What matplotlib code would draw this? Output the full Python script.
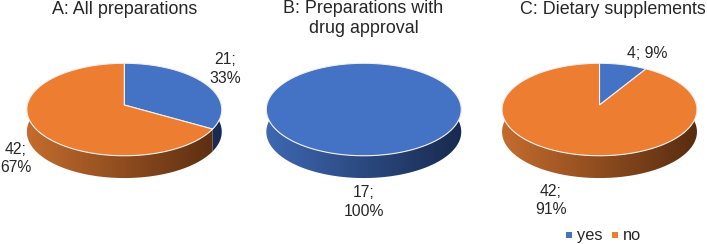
import numpy as np
import matplotlib
matplotlib.use("Agg")
import matplotlib.pyplot as plt
from matplotlib.patches import Polygon, Rectangle

titles = ["A: All preparations", "B: Preparations with\ndrug approval", "C: Dietary supplements"]
categories = ["yes", "no"]
yes_counts = [21, 17, 4]
no_counts = [42, 0, 42]

plt.rcParams["font.family"] = ["Liberation Sans", "DejaVu Sans"]

TOP = {"yes": "#4472C4", "no": "#ED7D31"}
SIDE = {"yes": ((62, 104, 178), (24, 42, 78)), "no": ((196, 108, 46), (88, 44, 16))}

apex_x = [124.3, 363.8, 599.5]
title_xy = [(124.3, 9), (363.5, 18.5), (613, 9)]
label_xy = {
    0: {"yes": (225.5, 69), "no": (16, 158.5)},
    1: {"yes": (364, 202)},
    2: {"yes": (646.7, 53), "no": (551, 200.5)},
}
legend_x = {"yes": (565.7, 576.7), "no": (611.7, 622.7)}
APEX_Y, A_X, B_Y, K, DEPTH = 105, 97.0, 45.8, 0.0974, 22.3


def project(cx, theta):
    u, v = np.sin(theta), np.cos(theta)
    d = 1 + K * v
    return cx + A_X * u / d, APEX_Y - B_Y * v / d


fig = plt.figure(figsize=(7.07, 2.44), dpi=100, facecolor="white")
ax = fig.add_axes([0, 0, 1, 1])

for i, (y, n) in enumerate(zip(yes_counts, no_counts)):
    cx = apex_x[i]
    total = y + n
    start = 0.0
    left, right = cx - 98, cx + 98
    wedges = []
    for name, val in zip(categories, (y, n)):
        if val == 0:
            continue
        end = start + 2 * np.pi * val / total
        wedges.append((name, val, start, end))
        start = end
    # extruded side, drawn first
    for name, val, a0, a1 in wedges:
        lo, hi = max(a0, np.radians(80)), min(a1, np.radians(280))
        if hi <= lo:
            continue
        t = np.linspace(lo, hi, 160)
        px, py = project(cx, t)
        pts = np.r_[np.c_[px, py], np.c_[px, py + DEPTH][::-1]]
        clip = Polygon(pts, closed=True, transform=ax.transData, fc="none", ec="none")
        ax.add_patch(clip)
        c0, c1 = (np.array(c) / 255 for c in SIDE[name])
        f = np.linspace(0, 1, 256)[:, None]
        grad = (c0 * (1 - f) + c1 * f)[None, :, :]
        im = ax.imshow(grad, extent=(left, right, 190, 60), aspect="auto", zorder=1)
        im.set_clip_path(clip)
    # top face
    for name, val, a0, a1 in wedges:
        t = np.linspace(a0, a1, 300)
        px, py = project(cx, t)
        pts = np.c_[px, py]
        if a1 - a0 < 2 * np.pi - 1e-6:
            pts = np.r_[[[cx, APEX_Y]], pts]
        ax.add_patch(Polygon(pts, closed=True, fc=TOP[name], ec="#f4f1ee", lw=0.8, zorder=2))
        lx, ly = label_xy[i][name]
        pct = round(100 * val / total)
        sep = " " if name == "yes" and i == 2 else "\n"
        ax.text(lx, ly, f"{val};{sep}{pct}%", ha="center", va="center", fontsize=11.3,
                color="#262626", linespacing=1.28, zorder=3, multialignment="center")
    ax.text(*title_xy[i], titles[i], ha="center", va="center", fontsize=12.9,
            color="#262626", linespacing=1.17)

# legend, with both labels on one baseline
for name in categories:
    sx, tx = legend_x[name]
    ax.add_patch(Rectangle((sx, 231.7), 6.4, 6.6, fc=TOP[name], ec="none", zorder=3))
    ax.text(tx, 240, name, ha="left", va="baseline", fontsize=11.8, color="#262626")

ax.set_xlim(0, 707)
ax.set_ylim(244, 0)
ax.axis("off")

fig.savefig("out.png", dpi=100, facecolor="white")
